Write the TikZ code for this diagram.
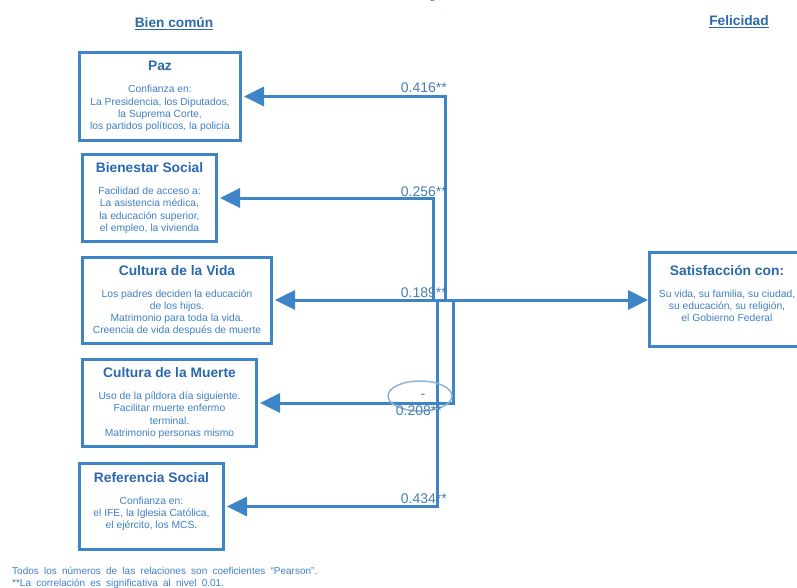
\documentclass[tikz,border=0pt]{standalone}
\usepackage{fontspec}
\setmainfont{Liberation Sans}
\usetikzlibrary{arrows.meta}
\definecolor{lineblue}{HTML}{3D85C6}
\definecolor{titleblue}{HTML}{2A68AE}
\definecolor{bodyblue}{HTML}{3F7EC3}
\definecolor{labblue}{HTML}{4A7DB3}
\definecolor{ovalblue}{HTML}{8CB3DA}
\newcommand\bxtitle[1]{{\fontsize{13.8}{15}\selectfont\bfseries\color{titleblue}#1}}
\newcommand\widesp{\spaceskip=5.2pt\relax}
\begin{document}
\begin{tikzpicture}[x=1pt,y=-1pt,
  box/.style={draw=lineblue,line width=3pt,inner sep=0pt,align=center,
    font=\fontsize{10.3}{12.2}\selectfont,text=bodyblue},
  conn/.style={draw=lineblue,line width=3pt,shorten >=2pt,
    -{Triangle[length=20pt,width=19pt]}},
  lab/.style={font=\fontsize{14}{16}\selectfont,text=labblue,inner sep=0pt,anchor=base east},
  hd/.style={font=\fontsize{13.7}{15}\selectfont\bfseries,text=titleblue,inner sep=0pt},
  note/.style={font=\fontsize{10}{11}\selectfont,text=bodyblue,inner sep=0pt,anchor=base west}]
\useasboundingbox (0,0) rectangle (797,587);

% headings
\node[font=\fontsize{10}{12}\selectfont,text=titleblue] (fig) at (440,-3) {Figura 4};
\node[hd] (bc) at (174,24) {\underline{Bien común}};
\node[hd] (fe) at (739,22) {\underline{Felicidad}};

% boxes
\node[box,minimum width=161pt,minimum height=88pt] (paz) at (160,96.5)
  {\bxtitle{Paz}\\[10pt]Confianza en:\\La Presidencia, los Diputados,\\la Suprema Corte,\\los partidos políticos, la policía};
\node[box,minimum width=134pt,minimum height=87pt] (bien) at (149.5,198)
  {\bxtitle{Bienestar Social}\\[10pt]Facilidad de acceso a:\\La asistencia médica,\\la educación superior,\\el empleo, la vivienda};
\node[box,minimum width=189pt,minimum height=86pt] (vida) at (177,300.5)
  {\bxtitle{Cultura de la Vida}\\[10pt]Los padres deciden la educación\\de los hijos.\\Matrimonio para toda la vida.\\Creencia de vida después de muerte};
\node[box,minimum width=174pt,minimum height=87pt] (muerte) at (169.5,403)
  {\bxtitle{Cultura de la Muerte}\\[10pt]Uso de la píldora día siguiente.\\Facilitar muerte enfermo\\terminal.\\Matrimonio personas mismo};
\node[box,minimum width=144pt,minimum height=86pt] (ref) at (151.5,506.5)
  {\bxtitle{Referencia Social}\\[10pt]Confianza en:\\el IFE, la Iglesia Católica,\\el ejército, los MCS.\\\mbox{}};
\node[box,minimum width=155pt,minimum height=94pt] (sat) at (727,299.5)
  {\bxtitle{Satisfacción con:}\\[10pt]Su vida, su familia, su ciudad,\\su educación, su religión,\\el Gobierno Federal\\\mbox{}};

% junctions on the main line
\coordinate (jP) at (445.5,300);
\coordinate (jB) at (433,300);
\coordinate (jR) at (437,300);
\coordinate (jM) at (453,300);

% connectors
\draw[conn] (jP) -- (vida.east |- jP);
\draw[conn,shorten >=0pt] (jP) -- (sat.west |- jP);
\draw[conn] (jP) |- (paz.east);
\draw[conn] (jB) |- (bien.east);
\draw[conn] (jM) |- (muerte.east);
\draw[conn] (jR) |- (ref.east);

% oval
\draw[ovalblue,line width=1.5pt] (420,396) ellipse [x radius=32, y radius=15];

% labels
\node[lab] (l1) at (447,92) {0.416**};
\node[lab] (l2) at (447,196) {0.256**};
\node[lab] (l3) at (447,297) {0.189**};
\node[lab,anchor=center] (l4m) at (423,396) {-};
\node[lab] (l4) at (442,415) {0.208**};
\node[lab] (l5) at (447,503) {0.434**};

% notes
\node[note] (n1) at (12,574) {\widesp Todos los números de las relaciones son coeficientes “Pearson”.};
\node[note] (n2) at (12,586) {\widesp **La correlación es significativa al nivel 0.01.};
\end{tikzpicture}
\end{document}
